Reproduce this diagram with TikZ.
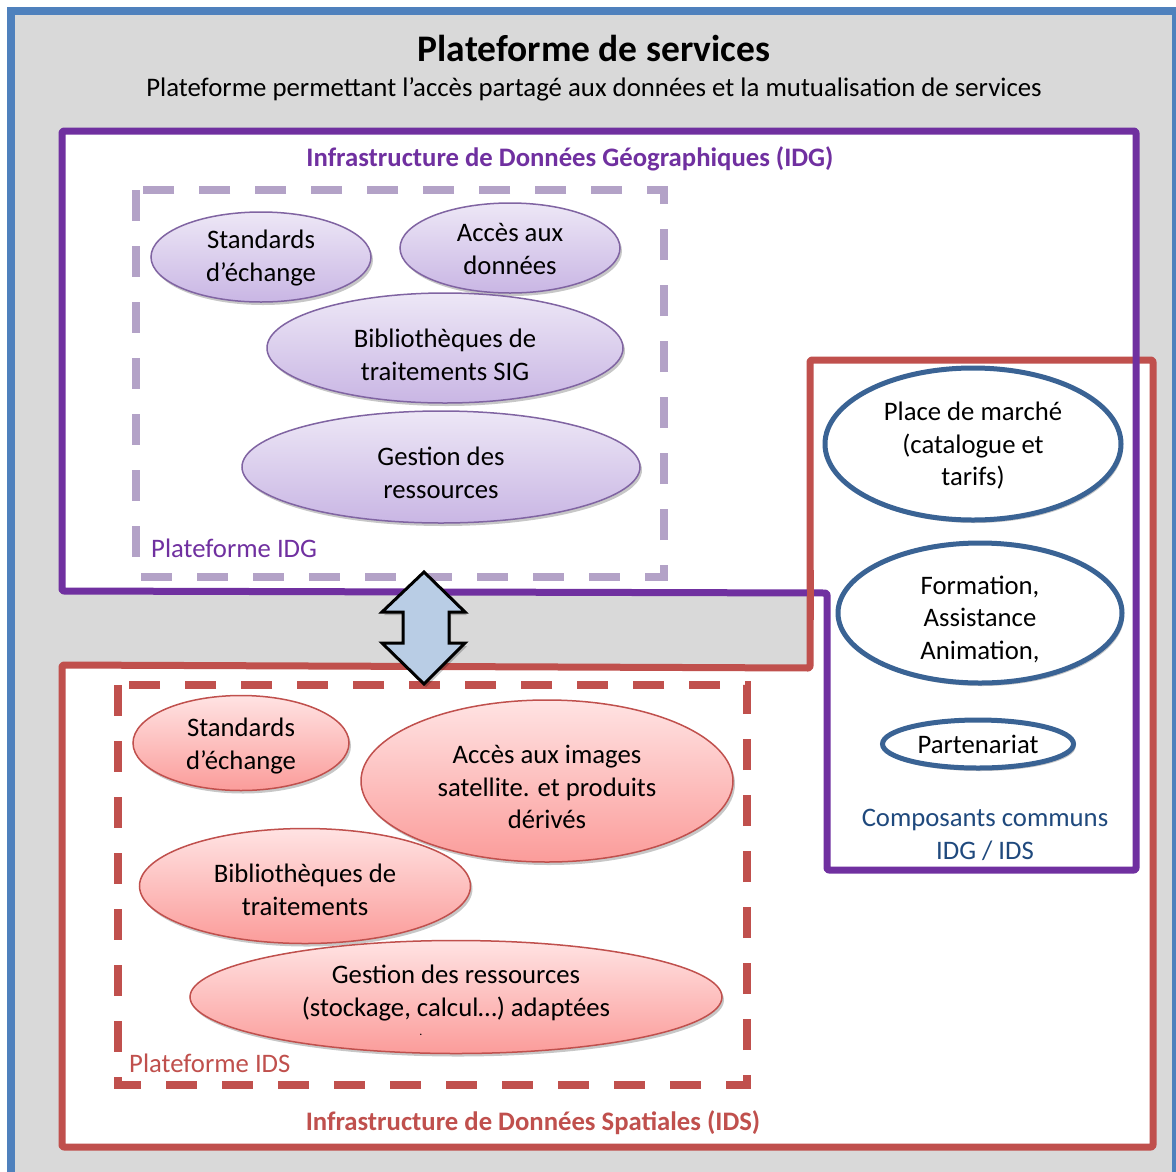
\documentclass[tikz,border=0pt]{standalone}
\usepackage{fontspec}
\setmainfont{Carlito}
\usetikzlibrary{shapes.geometric,shadows}
\definecolor{bggray}{HTML}{D9D9D9}
\definecolor{outerblue}{HTML}{4F81BD}
\definecolor{idgpurple}{HTML}{7030A0}
\definecolor{lavender}{HTML}{B3A2C7}
\definecolor{idsred}{HTML}{C0504D}
\definecolor{ellblue}{HTML}{3A6394}
\definecolor{darkblue}{HTML}{1F497D}
\definecolor{arrowfill}{HTML}{B9CDE5}
\definecolor{ptop}{HTML}{EDE7F6}
\definecolor{pbot}{HTML}{C9B6E4}
\definecolor{pborder}{HTML}{8064A2}
\definecolor{rtop}{HTML}{FFE3E3}
\definecolor{rbot}{HTML}{FB9C9A}
\tikzset{
  txt/.style={align=center, inner sep=0pt, font=\fontsize{26.7}{32.5}\selectfont},
  shadowed/.style={drop shadow={shadow xshift=2pt, shadow yshift=-3pt, opacity=0.22, fill=black}},
  pell/.style={ellipse, draw=pborder, line width=1.5pt, top color=ptop, bottom color=pbot, shadowed, inner sep=0pt},
  rell/.style={ellipse, draw=idsred, line width=1.5pt, top color=rtop, bottom color=rbot, shadowed, inner sep=0pt},
  bell/.style={ellipse, draw=ellblue, line width=5pt, fill=white, shadowed, inner sep=0pt},
  dashbox/.style={line width=8pt, dash pattern=on 31pt off 25pt},
  bigline/.style={line width=7pt, line join=round, rounded corners=2pt},
}
\begin{document}
\begin{tikzpicture}[x=1pt,y=-1pt]
\useasboundingbox (0,0) rectangle (1176,1171);
\clip (0,0) rectangle (1176,1171);
% outer frame
\draw[line width=8pt, draw=outerblue, fill=bggray] (11,11) rectangle (1176,1200);
\node[font=\bfseries\fontsize{37.5}{40}\selectfont] (title) at (594,48) {Plateforme de services};
\node[font=\fontsize{26.8}{30}\selectfont] (subtitle) at (594,89) {Plateforme permettant l’accès partagé aux données et la mutualisation de services};
% region fills
\fill[white] (62,131) -- (1136,131) -- (1136,870) -- (827,870) -- (827,593) -- (62,591) -- cycle;
\fill[white] (810,360) -- (1153,360) -- (1153,1147) -- (62,1147) -- (62,665) -- (810,668) -- cycle;
% region strokes
\draw[bigline, idsred] (810,360) -- (1153,360) -- (1153,1147) -- (62,1147) -- (62,665) -- (810,668) -- cycle;
\draw[bigline, idgpurple] (62,131) -- (1136,131) -- (1136,870) -- (827,870) -- (827,593) -- (62,591) -- cycle;
\draw[line width=7pt, idsred] (810,570) -- (810,620);
% dashed platforms
\draw[dashbox, draw=lavender] (136,190) rectangle (664,577);
\draw[dashbox, draw=idsred] (118,685) rectangle (747,1085);
% labels
\node[font=\bfseries\fontsize{26.7}{30}\selectfont, text=idgpurple] (idglabel) at (570,159) {Infrastructure de Données Géographiques (IDG)};
\node[font=\fontsize{26.7}{30}\selectfont, text=idgpurple, anchor=west, inner sep=0pt] (pidg) at (151,548) {Plateforme IDG};
\node[font=\bfseries\fontsize{26.7}{30}\selectfont, text=idsred] (idslabel) at (533,1123) {Infrastructure de Données Spatiales (IDS)};
\node[font=\fontsize{26.7}{30}\selectfont, text=idsred, anchor=west, inner sep=0pt] (pids) at (129,1063) {Plateforme IDS};
% IDG ellipses
\node[pell, minimum width=220pt, minimum height=90pt] (g1) at (261,257) {};
\node[txt] at (261,258) {Standards\\d’échange};
\node[pell, minimum width=220pt, minimum height=90pt] (g2) at (510,248) {};
\node[txt] at (510,249) {Accès aux\\données};
\node[pell, minimum width=356pt, minimum height=110pt] (g3) at (445,348) {};
\node[txt] at (445,355) {Bibliothèques de\\traitements SIG};
\node[pell, minimum width=398pt, minimum height=112pt] (g4) at (441,467) {};
\node[txt] at (441,473) {Gestion des\\ressources};
% IDS ellipses
\node[rell, minimum width=216pt, minimum height=95pt] (s1) at (241,743) {};
\node[txt] at (241,746) {Standards\\d’échange};
\node[rell, minimum width=372pt, minimum height=162pt] (s2) at (547,781) {};
\node[txt] at (547,787) {Accès aux images\\satellite. et produits\\dérivés};
\node[rell, minimum width=331pt, minimum height=115pt] (s3) at (305,886) {};
\node[txt] at (305,890) {Bibliothèques de\\traitements};
\node[rell, minimum width=532pt, minimum height=113pt] (s4) at (456,997) {};
\node[txt] at (456,993) {Gestion des ressources\\(stockage, calcul…) adaptées};
\node[font=\fontsize{12}{12}\selectfont, anchor=base, inner sep=0pt] (s4dot) at (421,1035) {.};
% common components
\node[bell, minimum width=296pt, minimum height=152pt] (c1) at (973,444) {};
\node[txt] at (973,446) {Place de marché\\(catalogue et\\tarifs)};
\node[bell, minimum width=284pt, minimum height=140pt] (c2) at (980,613) {};
\node[txt] at (980,619) {Formation,\\Assistance\\Animation,};
\node[bell, minimum width=191pt, minimum height=48pt] (c3) at (978,744) {};
\node[txt] at (978,744) {Partenariat};
\node[txt, text=darkblue] (common) at (985,835) {Composants communs\\IDG / IDS};
% double arrow
\draw[line width=3pt, fill=arrowfill, line join=miter, shadowed]
  (424,572) -- (465,612) -- (449,612) -- (449,643) -- (465,643) -- (424,684)
  -- (382,643) -- (403,643) -- (403,612) -- (382,612) -- cycle;
\end{tikzpicture}
\end{document}
